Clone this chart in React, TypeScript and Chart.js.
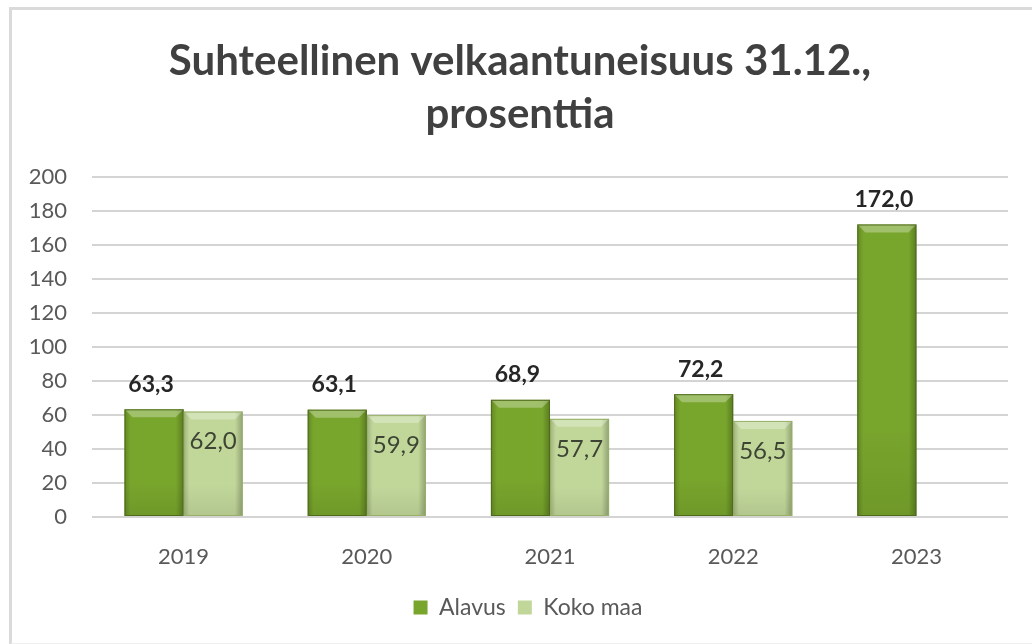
import React, { useEffect, useRef } from 'react';
import { Chart, registerables } from 'chart.js';

Chart.register(...registerables);

const categories = ['2019', '2020', '2021', '2022', '2023'];
const alavusValues = [63.3, 63.1, 68.9, 72.2, 172.0];
const kokoMaaValues: (number | null)[] = [62.0, 59.9, 57.7, 56.5, null];
const seriesNames = ['Alavus', 'Koko maa'];
const titleLines = ['Suhteellinen velkaantuneisuus 31.12.,', 'prosenttia'];
const yMin = 0;
const yMax = 200;
const yStep = 20;

const FONT = 'Lato, "Open Sans", sans-serif';

const fmt = (v: number) => v.toFixed(1).replace('.', ',');

const barStyle: any = {
  id: 'barStyle',
  afterLayout(chart: any) {
    const lg = chart.legend;
    if (lg) {
      lg.left += 24;
      lg.right += 24;
    }
    const tb = chart.titleBlock;
    if (tb) {
      tb.left += 16;
      tb.right += 16;
    }
  },
  afterDatasetsDraw(chart: any) {
    const ctx = chart.ctx;
    chart.data.datasets.forEach((ds: any, di: number) => {
      const meta = chart.getDatasetMeta(di);
      meta.data.forEach((el: any, i: number) => {
        const v = ds.data[i];
        if (v === null || v === undefined) return;
        const w = el.width;
        const left = el.x - w / 2;
        const top = el.y;
        const h = el.base - el.y;
        ctx.save();
        const g = ctx.createLinearGradient(left, 0, left + w, 0);
        g.addColorStop(0, 'rgba(0,0,0,0.18)');
        g.addColorStop(0.1, 'rgba(0,0,0,0)');
        g.addColorStop(0.87, 'rgba(0,0,0,0)');
        g.addColorStop(1, 'rgba(0,0,0,0.25)');
        ctx.fillStyle = g;
        ctx.fillRect(left, top, w, h);
        const b = Math.min(8, h / 2);
        ctx.beginPath();
        ctx.moveTo(left, top);
        ctx.lineTo(left + w, top);
        ctx.lineTo(left + w - b, top + b);
        ctx.lineTo(left + b, top + b);
        ctx.closePath();
        ctx.fillStyle = 'rgba(255,255,255,0.3)';
        ctx.fill();
        const gb = ctx.createLinearGradient(0, top, 0, el.base);
        gb.addColorStop(0, 'rgba(0,0,0,0)');
        gb.addColorStop(0.7, 'rgba(0,0,0,0)');
        gb.addColorStop(1, 'rgba(0,0,0,0.08)');
        ctx.fillStyle = gb;
        ctx.fillRect(left, top + b, w, h - b);
        ctx.strokeStyle = ds.borderColor;
        ctx.lineWidth = 1;
        ctx.strokeRect(left + 0.5, top + 0.5, w - 1, h - 1);
        ctx.restore();

        ctx.save();
        ctx.textAlign = 'center';
        ctx.textBaseline = 'middle';
        if (di === 0) {
          ctx.font = `bold 23px ${FONT}`;
          ctx.fillStyle = '#262626';
          ctx.fillText(fmt(v), el.x - 3, top - 25);
        } else {
          ctx.font = `24px ${FONT}`;
          ctx.fillStyle = '#3d4433';
          ctx.fillText(fmt(v), el.x, top + 30);
        }
        ctx.restore();
      });
    });
  },
};

export default function App() {
  const ref = useRef<HTMLCanvasElement | null>(null);

  useEffect(() => {
    if (!ref.current) return;
    const chart = new Chart(ref.current, {
      type: 'bar',
      data: {
        labels: categories,
        datasets: [
          {
            label: seriesNames[0],
            data: alavusValues,
            backgroundColor: '#78a52c',
            borderColor: '#4e6b1a',
            borderWidth: 0,
            categoryPercentage: 0.645,
            barPercentage: 1,
          },
          {
            label: seriesNames[1],
            data: kokoMaaValues,
            backgroundColor: '#c1d79a',
            borderColor: '#97b066',
            borderWidth: 0,
            categoryPercentage: 0.645,
            barPercentage: 1,
          },
        ],
      },
      options: {
        animation: false,
        responsive: false,
        maintainAspectRatio: false,
        layout: { padding: { left: 0, right: 24, top: 0, bottom: 15 } },
        plugins: {
          title: {
            display: true,
            text: titleLines,
            color: '#404040',
            font: { family: FONT, size: 42, weight: 'bold', lineHeight: 1.26 },
            padding: { top: 35, bottom: 36 },
          },
          legend: {
            display: true,
            position: 'bottom',
            labels: {
              color: '#595959',
              font: { family: FONT, size: 23 },
              boxWidth: 14,
              boxHeight: 14,
              padding: 12,
            },
          },
          tooltip: { enabled: false },
        },
        scales: {
          x: {
            grid: { display: false },
            border: { display: false },
            ticks: { color: '#595959', font: { family: FONT, size: 22 }, padding: 19 },
            afterFit: (s: any) => {
              s.height = 67;
            },
          },
          y: {
            min: yMin,
            max: yMax,
            ticks: {
              stepSize: yStep,
              color: '#595959',
              font: { family: FONT, size: 22 },
              padding: 25,
            },
            grid: { color: '#d4d4d4', lineWidth: 2, drawTicks: false },
            border: { display: false },
            afterFit: (s: any) => {
              s.width = 92;
            },
          },
        },
      },
      plugins: [barStyle],
    });
    return () => chart.destroy();
  }, []);

  return (
    <div
      style={{
        position: 'fixed',
        left: 0,
        top: 0,
        width: 1032,
        height: 644,
        background: '#fff',
        overflow: 'hidden',
      }}
    >
      <div
        style={{
          position: 'absolute',
          left: 9,
          top: 7,
          width: 1040,
          height: 633,
          borderLeft: '3px solid #dadada',
          borderTop: '3px solid #dadada',
          borderBottom: '2px solid #eeeeee',
        }}
      />
      <canvas
        ref={ref}
        width={1032}
        height={644}
        style={{ position: 'absolute', left: 0, top: 0, width: 1032, height: 644 }}
      />
    </div>
  );
}
